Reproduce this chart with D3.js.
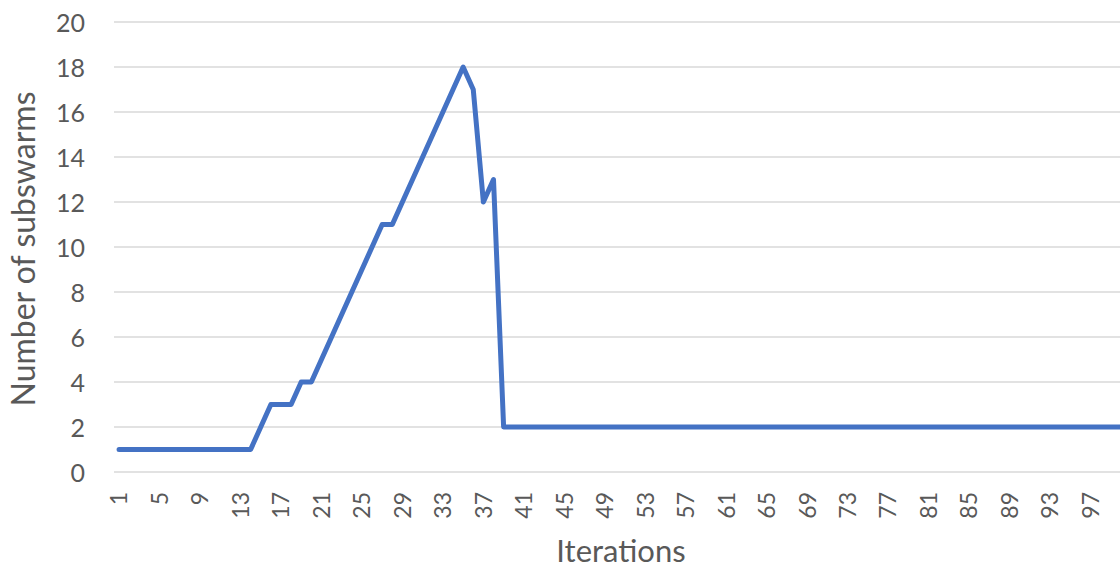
<!DOCTYPE html>
<html>
<head>
<meta charset="utf-8">
<script src="https://cdn.jsdelivr.net/npm/d3@7"></script>
<style>
  body { margin: 0; background: #fff; }
  text { font-family: Lato, "Open Sans", sans-serif; fill: #595959; }
</style>
</head>
<body>
<div class="graph"></div>
<script>
// number of subswarms per iteration
var iterations = d3.range(1, 101);
var subswarms = [
  1, 1, 1, 1, 1, 1, 1, 1, 1, 1,
  1, 1, 1, 1, 2, 3, 3, 3, 4, 4,
  5, 6, 7, 8, 9, 10, 11, 11, 12, 13,
  14, 15, 16, 17, 18, 17, 12, 13, 2, 2,
  2, 2, 2, 2, 2, 2, 2, 2, 2, 2,
  2, 2, 2, 2, 2, 2, 2, 2, 2, 2,
  2, 2, 2, 2, 2, 2, 2, 2, 2, 2,
  2, 2, 2, 2, 2, 2, 2, 2, 2, 2,
  2, 2, 2, 2, 2, 2, 2, 2, 2, 2,
  2, 2, 2, 2, 2, 2, 2, 2, 2, 2
];
var y_ticks = d3.range(0, 21, 2);
var x_ticks = iterations.filter(function(d){ return (d - 1) % 4 === 0; });

var width = 1120, height = 569;
var margin = { top: 22, bottom: 97, left: 114, right: -6 };

var svg = d3.select('.graph').append('svg')
    .attr('width', width)
    .attr('height', height);

var xScale = d3.scaleBand()
    .domain(iterations)
    .range([margin.left, width - margin.right]);

var yScale = d3.scaleLinear()
    .domain([0, 20])
    .range([height - margin.bottom, margin.top]);

// gridlines
svg.append('g')
    .selectAll('line')
    .data(y_ticks)
    .enter()
    .append('line')
    .attr('x1', margin.left)
    .attr('x2', width - margin.right)
    .attr('y1', function(d){ return yScale(d); })
    .attr('y2', function(d){ return yScale(d); })
    .style('stroke', '#d9d9d9')
    .style('stroke-width', 1.5);

// y axis
var yAxis = svg.append('g')
    .attr('transform', 'translate(' + (margin.left - 29) + ',0)')
    .call(d3.axisLeft(yScale).tickValues(y_ticks).tickSize(0).tickPadding(0));
yAxis.select('.domain').remove();
yAxis.selectAll('text')
    .attr('font-size', '25px')
    .attr('dy', '0.36em')
    .style('font-family', 'Lato, "Open Sans", sans-serif')
    .attr('fill', '#595959');

// x axis
var xAxis = svg.append('g')
    .attr('transform', 'translate(0,' + (height - margin.bottom) + ')')
    .call(d3.axisBottom(xScale).tickValues(x_ticks).tickSize(0).tickPadding(0));
xAxis.select('.domain').remove();
xAxis.selectAll('text')
    .attr('font-size', '23px')
    .attr('transform', 'rotate(-90)')
    .attr('text-anchor', 'end')
    .attr('x', -20)
    .attr('y', 0)
    .attr('dy', '0.36em')
    .style('font-family', 'Lato, "Open Sans", sans-serif')
    .attr('fill', '#595959');

// line
var line = d3.line()
    .x(function(d, i){ return xScale(iterations[i]) + xScale.bandwidth() / 2; })
    .y(function(d){ return yScale(d); });

svg.append('path')
    .datum(subswarms)
    .attr('d', line)
    .style('fill', 'none')
    .style('stroke', '#4472c4')
    .style('stroke-width', 5)
    .style('stroke-linejoin', 'round')
    .style('stroke-linecap', 'round');

// axis titles
svg.append('text')
    .text('Iterations')
    .attr('x', 621)
    .attr('y', 562)
    .attr('text-anchor', 'middle')
    .attr('font-size', '31px');

svg.append('text')
    .text('Number of subswarms')
    .attr('transform', 'translate(35,249) rotate(-90)')
    .attr('text-anchor', 'middle')
    .attr('font-size', '32px');
</script>
</body>
</html>
